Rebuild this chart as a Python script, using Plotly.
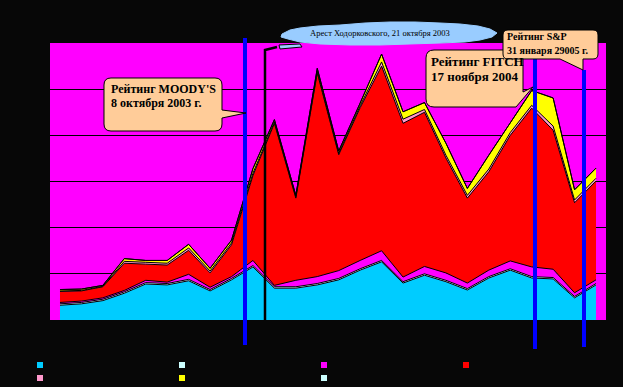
import plotly.graph_objects as go

# ---------------- data ----------------
categories = ["янв.03", "фев.03", "мар.03", "апр.03", "май.03", "июн.03", "июл.03", "авг.03",
              "сен.03", "окт.03", "ноя.03", "дек.03", "янв.04", "фев.04", "мар.04", "апр.04",
              "май.04", "июн.04", "июл.04", "авг.04", "сен.04", "окт.04", "ноя.04", "дек.04",
              "янв.05", "фев.05"]

s1_cyan = [3.2, 3.5, 4.2, 5.8, 7.8, 7.6, 8.5, 6.3, 8.7, 11.5, 6.9, 6.9, 7.6, 8.7, 10.8, 12.6,
           8.0, 9.7, 8.3, 6.5, 9.1, 10.8, 9.1, 8.9, 4.8, 7.6]
s2_lightcyan = [0.3] * 26
s3_magenta = [0.3, 0.3, 0.3, 0.3, 0.5, 0.3, 1.1, 0.5, 0.4, 1.1, 0.3, 1.4, 1.5, 1.7, 1.8, 2.1,
              1.0, 1.6, 1.6, 1.2, 1.4, 1.7, 2.1, 1.8, 0.8, 0.8]
s4_red = [2.4, 2.2, 2.4, 5.9, 3.5, 3.7, 5.2, 3.1, 6.9, 18.4, 35.1, 17.8, 44.1, 25.1, 33.1, 40.0,
          33.3, 33.4, 24.9, 18.4, 21.3, 27.2, 34.4, 30.1, 19.5, 21.4]
s5_pink = [0.1, 0.1, 0.1, 0.4, 0.4, 0.4, 0.5, 0.4, 0.4, 0.5, 0.3, 0.3, 0.4, 0.3, 0.4, 0.9,
           0.9, 0.6, 0.6, 0.6, 0.6, 0.6, 0.6, 0.9, 0.6, 0.6]
s6_yellow = [0.3, 0.3, 0.2, 0.6, 0.4, 0.6, 0.8, 0.6, 0.6, 1.0, 0.5, 0.3, 0.6, 0.5, 0.6, 1.7,
             1.6, 1.5, 2.6, 1.5, 3.0, 2.2, 3.2, 6.1, 2.2, 2.2]
s7_other = [0.0] * 26

series_names = ["Ряд 1", "Ряд 2", "Ряд 3", "Ряд 4", "Ряд 5", "Ряд 6", "Ряд 7"]
series_values = [s1_cyan, s2_lightcyan, s3_magenta, s4_red, s5_pink, s6_yellow, s7_other]
series_colors = ["#00CCFF", "#CCFFFF", "#FF00FF", "#FF0000", "#FF99CC", "#FFFF00", "#CCFFFF"]

callout_moodys = ["Рейтинг MOODY'S", "8 октября 2003 г."]
callout_fitch = ["Рейтинг FITCH", "17 ноября 2004"]
callout_sp = ["Рейтинг S&P", "31 января 29005 г."]
callout_arrest = "Арест Ходорковского, 21 октября 2003"

# ---------------- layout geometry (pixels) ----------------
W, H = 623, 387
L, R, T, B = 50, 606, 43, 320
BG = "#070707"


def X(px):
    return (px - L) / (R - L)


def Y(py):
    return (B - py) / (B - T)


def path(cmds):
    out = []
    for c in cmds:
        if isinstance(c, str):
            out.append(c)
        else:
            out.append(f"{X(c[0]):.5f},{Y(c[1]):.5f}")
    return " ".join(out)


fig = go.Figure()

for name, vals, col in zip(series_names, series_values, series_colors):
    fig.add_trace(go.Scatter(
        x=categories, y=vals, name=name, stackgroup="one", mode="lines",
        line=dict(color="#000000", width=1), fillcolor=col, showlegend=False,
        hoverinfo="skip"))

# legend entries (small squares)
for i, (name, col) in enumerate(zip(series_names, series_colors)):
    fig.add_trace(go.Scatter(
        x=[None], y=[None], name=name, mode="markers",
        marker=dict(symbol="square", size=6, color=col, line=dict(width=0)),
        legend="legend" if i < 4 else "legend2"))

shapes = []
# vertical marker lines
for xp, y0, y1 in [(245, 38, 345), (535, 59, 349), (584, 70, 347)]:
    shapes.append(dict(type="line", xref="paper", yref="paper", x0=X(xp), x1=X(xp),
                       y0=Y(y0), y1=Y(y1), line=dict(color="#0000FF", width=4), layer="above"))
# black leader of the cloud
shapes.append(dict(type="path", xref="paper", yref="paper",
                   path=path(["M", (265, 320), "L", (265, 50), "L", (277, 47)]),
                   line=dict(color="#000000", width=2.5), layer="above"))

peach = "#FFCC99"
moodys = ["M", (111, 78), "L", (215, 78), "Q", (222, 78), (222, 85), "L", (222, 110), "L", (246, 113),
          "L", (222, 118), "L", (222, 124), "Q", (222, 131), (215, 131), "L", (111, 131),
          "Q", (104, 131), (104, 124), "L", (104, 85), "Q", (104, 78), (111, 78), "Z"]
fitch = ["M", (434, 50), "L", (515, 50), "Q", (523, 50), (523, 58), "L", (523, 92), "L", (533, 87),
         "L", (516, 107), "L", (434, 107), "Q", (426, 107), (426, 99), "L", (426, 58),
         "Q", (426, 50), (434, 50), "Z"]
sp = ["M", (508, 30), "L", (593, 30), "Q", (598, 30), (598, 35), "L", (598, 54), "Q", (598, 59), (593, 59),
      "L", (583, 59), "L", (583, 70), "L", (560, 59), "L", (508, 59), "Q", (503, 59), (503, 54),
      "L", (503, 35), "Q", (503, 30), (508, 30), "Z"]
for p in (moodys, fitch, sp):
    shapes.append(dict(type="path", xref="paper", yref="paper", path=path(p),
                       fillcolor=peach, line=dict(color="#000000", width=1), layer="above"))

cloud_pts = [(282, 34), (290, 30), (300, 28), (318, 26), (340, 25), (365, 23), (390, 22), (415, 22),
             (440, 23), (460, 24), (478, 26), (490, 29), (497, 33), (492, 37), (480, 40), (465, 42),
             (440, 43), (410, 44), (380, 45), (350, 45), (320, 44), (300, 42), (288, 39), (281, 37)]
cloud = ["M", cloud_pts[0]]
for pt in cloud_pts[1:]:
    cloud += ["L", pt]
cloud.append("Z")
shapes.append(dict(type="path", xref="paper", yref="paper", path=path(cloud),
                   fillcolor="#99CCFF", line=dict(color="#99CCFF", width=1), layer="above"))
blob = ["M", (279, 45), "L", (300, 44), "L", (302, 47), "L", (280, 49), "Z"]
shapes.append(dict(type="path", xref="paper", yref="paper", path=path(blob),
                   fillcolor="#99CCFF", line=dict(color="#000000", width=1), layer="above"))

serif = "Liberation Serif"
ann = []


def text(t, xp, yp, size, bold=True):
    ann.append(dict(text=f"<b>{t}</b>" if bold else t, xref="paper", yref="paper",
                    x=X(xp), y=Y(yp), xanchor="left", yanchor="middle", showarrow=False,
                    font=dict(family=serif, size=size, color="#000000")))


text(callout_moodys[0], 109, 89, 12)
text(callout_moodys[1], 109, 103, 12)
text(callout_fitch[0], 429, 61, 13)
text(callout_fitch[1], 429, 76, 13)
text(callout_sp[0], 505, 37, 10)
text(callout_sp[1], 505, 51, 10)
text(callout_arrest, 308, 33, 8.5, bold=False)

fig.update_layout(
    width=W, height=H,
    margin=dict(l=L, r=W - R, t=T, b=H - B, autoexpand=False),
    paper_bgcolor=BG, plot_bgcolor="#FF00FF",
    xaxis=dict(type="category", range=[-0.466, 25.466], showgrid=False, showticklabels=False,
               zeroline=False, showline=False, ticks=""),
    yaxis=dict(range=[0, 60], dtick=10, showgrid=True, gridcolor="#000000", gridwidth=1,
               showticklabels=False, zeroline=False, showline=False, ticks=""),
    shapes=shapes, annotations=ann,
    legend=dict(orientation="h", x=X(20), xanchor="left", y=Y(365), yanchor="middle",
                entrywidth=97, traceorder="normal", font=dict(size=9, color=BG),
                bgcolor="rgba(0,0,0,0)", itemclick=False),
    legend2=dict(orientation="h", x=X(20), xanchor="left", y=Y(378), yanchor="middle",
                 entrywidth=97, traceorder="normal", font=dict(size=9, color=BG),
                 bgcolor="rgba(0,0,0,0)", itemclick=False),
    showlegend=True,
)

fig.write_html("out.html", config={"displayModeBar": False},
               post_script="document.body.style.margin='0';document.body.style.background='#070707';")
